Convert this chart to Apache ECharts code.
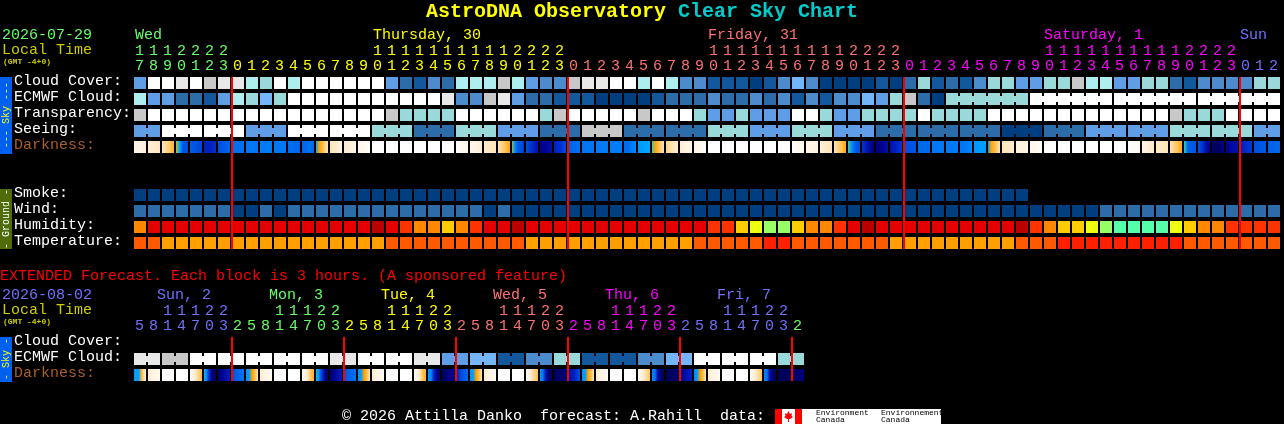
<!DOCTYPE html>
<html><head><meta charset="utf-8">
<style>html,body{margin:0;padding:0;background:#000}#c{width:1284px;height:424px}</style>
<script src="https://cdn.jsdelivr.net/npm/echarts@6/dist/echarts.min.js"></script>
</head><body><div id="c"></div>
<script>
// ---------- data ----------
const hours = [17,18,19,20,21,22,23,0,1,2,3,4,5,6,7,8,9,10,11,12,13,14,15,16,17,18,19,20,21,22,23,0,1,2,3,4,5,6,7,8,9,10,11,12,13,14,15,16,17,18,19,20,21,22,23,0,1,2,3,4,5,6,7,8,9,10,11,12,13,14,15,16,17,18,19,20,21,22,23,0,1,2];
const extHours = [5,8,11,14,17,20,23,2,5,8,11,14,17,20,23,2,5,8,11,14,17,20,23,2,5,8,11,14,17,20,23,2,5,8,11,14,17,20,23,2,5,8,11,14,17,20,23,2];
const midnights = [7,31,55,79];
const extMidnights = [7,15,23,31,39,47];
const skyRows = ['Cloud Cover:','ECMWF Cloud:','Transparency:','Seeing:','Darkness:','','','Smoke:','Wind:','Humidity:','Temperature:'];
const extRows = ['Cloud Cover:','ECMWF Cloud:','Darkness:'];

const cloudCover = [4,10,10,9,10,8,9,9,7,6,10,7,10,10,10,10,10,10,4,2,1,3,2,7,7,7,8,7,4,3,3,8,9,9,10,10,7,10,7,3,3,1,1,1,0,1,3,5,3,0,0,0,0,1,0,2,6,1,2,1,3,6,6,4,4,6,6,8,7,7,4,4,6,6,2,1,3,3,3,3,6,6];
const ecmwfCloud = [7,4,4,2,2,1,4,7,6,5,6,10,10,10,10,10,10,10,10,10,10,10,9,3,3,8,9,4,2,2,1,1,1,0,0,0,0,1,2,2,2,3,2,2,3,2,3,1,3,1,3,3,5,4,6,8,2,0,6,6,6,6,6,6,10,10,10,10,10,10,10,10,10,10,10,10,10,10,10,10,10,10];
const transparency = [5,4,4,4,4,4,4,4,4,4,4,4,4,4,4,4,4,4,5,3,3,3,3,4,4,4,4,4,4,3,5,4,4,4,4,4,5,4,4,4,3,2,2,3,2,2,2,4,4,3,2,2,3,3,3,3,4,3,3,3,3,4,4,4,4,4,4,4,4,4,4,4,4,4,5,3,3,3,4,4,4,4];
const seeing = [2,2,4,4,4,4,4,4,2,2,2,4,4,4,4,4,4,3,3,3,1,1,1,3,3,3,2,2,2,1,1,1,5,5,5,1,1,1,1,1,1,3,3,3,2,2,2,3,3,3,2,2,2,1,1,1,1,1,1,1,1,1,0,0,0,1,1,1,2,2,2,2,2,2,3,3,3,3,3,3,2,2];
const darkness = [[11.2,11,10.7],[10.7,10.4,10.2],[10,9.5,8.5],[8,6.5,5,3,3,3],[3.5,3,2.7],[2,2,2.4],[3,3.3,3.7],[4],[4.3],[4.5],[4.3],[4,3.8,3.6],[3.6,3.8,4,3.8],[6,8,8.7,9.5,10],[10,10.5,11],[10.5,11],[11.3,11.7],[12],[12],[12],[12],[12],[12],[12,11.5,11.2],[11.2,11,10.5],[10.5,10.2,10],[10,9.5,9,8.2],[7.5,5,3.2,3,2.5],[3,2.5,2,1.5],[1,1,1.2,1.5],[2,2.3,3],[3.5,3.8,4],[4.2],[4.4],[4.5],[4,3.8,4.5,5],[5.5,6],[7,8,8.8,9.5,10],[9.5,10,10.4],[10.5,11,11],[11,11.5,11.8],[12],[12],[12],[12],[12],[12],[12,11.5,11.2],[11.2,10.8],[10.8,10.3,10],[10,9.5,9,8.2],[7.2,5,3.2,3],[2.5,1.5,0.7],[1,0.8,1.2,1.5],[1.5,2,2.5],[3,3.2],[3.8],[4.3],[4.4],[4.2,4.4,5],[5.5,5.7],[5.5,8,8.7,9.3,10],[10,10.5],[10.8,11],[11.3,11.7],[12],[12],[12],[12],[12],[12],[12,11.7,11.4],[11,10.7,10.4],[10.3,10.2,10],[10,9.5,9,8.2],[7,3.5,3.3,3.2],[3.2,2.5,1.5,1],[0.5,0.3,0.5,1],[1,1.3,1.6],[2,2.5],[3,3.3],[3.5,3.8]];
const smoke = [0,0,0,0,0,0,0,0,0,0,0,0,0,0,0,0,0,0,0,0,0,0,0,0,0,0,0,0,0,0,0,0,0,0,0,0,0,0,0,0,0,0,0,0,0,0,0,0,0,0,0,0,0,0,0,0,0,0,0,0,0,0,0,0];
const wind = [1,1,1,1,1,1,1,0,0,1,0,1,1,1,1,1,1,1,1,1,1,1,1,1,1,0,1,0,0,0,0,0,0,0,0,0,0,0,0,0,0,0,0,0,0,0,0,0,0,0,0,0,0,0,0,0,0,0,0,0,0,0,0,0,0,0,0,0,0,1,1,1,1,1,1,1,1,1,1,1,1,1];
const humidity = [3,1,1,1,1,1,1,1,1,1,1,1,1,1,1,1,1,0,1,2,3,3,4,3,2,1,1,0,1,1,1,1,1,1,1,1,1,1,1,1,1,2,2,4,5,6,6,4,3,3,2,1,0,1,1,1,1,1,1,1,1,1,1,0,2,3,4,4,5,6,7,7,7,7,5,4,3,3,2,2,2,2];
const temperature = [1,1,0,0,0,0,0,0,0,0,0,0,0,0,0,0,0,0,1,1,1,1,1,1,1,1,1,1,0,0,0,0,0,0,0,0,0,0,0,0,1,1,1,1,1,2,2,1,1,1,1,1,1,1,0,0,0,0,0,0,0,0,0,1,1,1,2,2,2,2,2,2,2,2,2,1,1,1,1,1,1,1];
const extEcmwf = [9,9,8,8,10,10,10,10,10,10,10,10,10,10,9,9,10,10,10,10,9,9,4,4,5,5,1,1,3,3,6,6,1,1,1,1,3,3,5,5,10,10,10,10,10,10,6,6];
const extDarkness = [[5.7,5.7,5.7,8.5,9.7,10.5],[10.5,11,11.5],[12],[12],[11.5,11,10.2,9.5,8.7],[6.5,5,2.5,1,0.5,0.3],[0.5,1,1.5,2],[3,3.7,4],[5.5,5.5,8,9,10],[10.5,11,11.5],[12],[12],[11.5,11,10,9,8.5],[6.5,5,2.5,1,0.5],[0.5,1,1.5,2],[3,3.6,4],[5.5,5.5,8,9,10],[10.5,11,11.5],[12],[12],[11.5,11,10,9,8.5],[5.5,5,2,1,0.5],[0.3,0.5,1,1],[2,3,3.7],[5.5,5.5,8,9,10],[10.5,11,11.5],[12],[12],[11.5,11,10,9.5,9],[5.5,4,1.5,0.5,0.3],[0.3,0.4,0.5,1],[1.5,2,3],[5.5,5.5,8,9,10],[10.5,11,11.5],[12],[12],[11.5,11,10.3,9.7,9],[5,4,1.2,0.5,0.2],[0.2,0.3,0.4,0.6],[1,1.5,2],[5,5.5,8,9,10],[10.5,11,11.5],[12],[12],[11.5,11,10.3,9.7,9],[5,4,1.2,0.5,0.2],[0.2,0.2,0.3],[0.3,0.6,0.8]];

// ---------- colour scales ----------
const cloudColors = ['#003f7f','#13579c','#2c6ca8','#4c8ccc','#5f9ee6','#74b5fa','#99d9d9','#aeeeee','#c8c8c8','#e8e8e8','#ffffff'];
const seeingColors = ['#003f7f','#2c6ca8','#5f9ee6','#99d9d9','#ffffff','#c8c8c8'];
const humidityColors = ['#bb0000','#e40000','#ff3300','#ff8800','#ffcc00','#eeff11','#99ff66','#55ffaa'];
const tempColors = ['#ffa000','#ff5a00','#ff2000'];
const darkColors = ['#00004a','#000090','#0020c0','#0050e0','#0070f0','#0088ff','#00a8ff','#30d0c0','#ffa000','#ffc050','#ffe4b8','#fff4e4','#ffffff'];
const dayGreen='#66ff66',dayYellow='#ffff00',daySalmon='#ff7070',dayMagenta='#ff00ff',dayBlue='#7070ff';

const FONT='"Liberation Mono","DejaVu Sans Mono",monospace';

function hourColor(i){ return i<7?dayGreen : i<31?dayYellow : i<55?daySalmon : i<79?dayMagenta : dayBlue; }
function extHourColor(i){
  const seq=[dayBlue,dayGreen,dayYellow,daySalmon,dayMagenta,dayBlue,dayGreen];
  return seq[i<7?0:Math.floor((i-7)/8)+1];
}

function darkColor(v){ return echarts.color.lerp(Math.min(1,Math.max(0,v/12)),darkColors); }

function cellSeries(g,row,values,palette,join){
  return {
    type:'custom',xAxisIndex:g*2,yAxisIndex:g,coordinateSystem:'cartesian2d',silent:true,clip:false,animation:false,z:2,
    encode:{x:0,y:1},
    data:values.map((v,i)=>[i,row,v]),
    renderItem(params,api){
      const i=api.value(0), c=api.coord([i,row]), band=api.size([1,1]);
      const x=c[0]-band[0]/2, y=c[1]-band[1]/2+2, w=band[0]-2, h=band[1]-4;
      const fill=palette[api.value(2)];
      const kids=[{type:'rect',shape:{x,y,width:w,height:h},style:{fill}}];
      if(join&&join(i)&&i<values.length-1) kids.push({type:'rect',shape:{x:x+w,y:y+3,width:2,height:h-6},style:{fill}});
      return {type:'group',children:kids};
    }
  };
}
function darkSeries(g,row,samples){
  return {
    type:'custom',xAxisIndex:g*2,yAxisIndex:g,silent:true,clip:false,animation:false,z:2,
    encode:{x:0,y:1},
    data:samples.map((s,i)=>[i,row]),
    renderItem(params,api){
      const i=api.value(0), c=api.coord([i,row]), band=api.size([1,1]);
      const s=samples[i];
      let fill;
      if(s.length===1) fill=darkColor(s[0]);
      else fill=new echarts.graphic.LinearGradient(0,0,1,0,s.map((v,k)=>({offset:k/(s.length-1),color:darkColor(v)})));
      return {type:'rect',shape:{x:c[0]-band[0]/2,y:c[1]-band[1]/2+2,width:band[0]-2,height:band[1]-4},style:{fill}};
    }
  };
}
function lineSeries(g,list,rows){
  return {
    type:'custom',xAxisIndex:g*2,yAxisIndex:g,silent:true,clip:false,animation:false,z:5,
    encode:{x:0},
    data:list.map(i=>[i,0]),
    renderItem(params,api){
      const i=api.value(0), a=api.coord([i,0]), b=api.coord([i,rows-1]), band=api.size([1,1]);
      const x=a[0]-band[0]/2;
      return {type:'rect',shape:{x:x-1,y:a[1]-band[1]/2+2,width:2,height:b[1]-a[1]+band[1]-4},style:{fill:'#ff0000'}};
    }
  };
}
function xAxes(g,hrs,colorFn){
  const units=hrs.map(h=>String(h%10));
  const tens=hrs.map(h=>h>=10?String(Math.floor(h/10)):'');
  const base={type:'category',position:'top',gridIndex:g,boundaryGap:true,
    axisLine:{show:false},axisTick:{show:false},splitLine:{show:false}};
  const lab=(extra)=>Object.assign({show:true,interval:0,hideOverlap:false,fontFamily:FONT,fontSize:15,padding:[0,3,0,0],
    color:(v,i)=>colorFn(i)},extra);
  return [
    Object.assign({},base,{data:units,axisLabel:lab({margin:1})}),
    Object.assign({},base,{data:tens,offset:15,axisLabel:lab({margin:1})})
  ];
}
function yAxis(g,rows){
  const tok={fontFamily:FONT,fontSize:15,padding:[0,0,4,0]};
  return {type:'category',gridIndex:g,inverse:true,data:rows,
    axisLine:{show:false},axisTick:{show:false},splitLine:{show:false},
    axisLabel:{show:true,interval:0,hideOverlap:false,align:'left',margin:120,
      formatter:v=>v===''?'':(v==='Darkness:'?'{d|'+v+'}':'{w|'+v+'}'),
      rich:{w:Object.assign({color:'#ffffff',align:'left'},tok),d:Object.assign({color:'#a85f2a',align:'left'},tok)}}};
}
function txt(x,y,text,fill,size,extra){
  return Object.assign({type:'text',x,y,silent:true,style:{text,fill,font:(extra&&extra.weight?extra.weight+' ':'')+size+'px '+FONT,align:'left',verticalAlign:'middle'}},extra&&extra.el||{});
}
function vtxt(x,y,text,fill,size){
  return {type:'text',x,y,rotation:Math.PI/2,silent:true,style:{text,fill,font:size+'px '+FONT,align:'center',verticalAlign:'middle'}};
}
function rect(x,y,w,h,fill){return {type:'rect',silent:true,shape:{x,y,width:w,height:h},style:{fill}};}

const graphicItems=[
  txt(426,12,'AstroDNA Observatory','#ffff00',20,{weight:'bold'}),
  txt(678,12,'Clear Sky Chart','#00cccc',20,{weight:'bold'}),
  txt(2,35,'2026-07-29',dayGreen,15),
  txt(2,50,'Local Time','#cccc00',15),
  txt(3,62,'(GMT -4+0)','#cccc00',8,{weight:'bold'}),
  txt(135,35,'Wed',dayGreen,15),
  txt(373,35,'Thursday, 30',dayYellow,15),
  txt(708,35,'Friday, 31',daySalmon,15),
  txt(1044,35,'Saturday, 1',dayMagenta,15),
  txt(1240,35,'Sun',dayBlue,15),
  rect(0,77,12,77,'#0060ee'),
  vtxt(6,115,'--- Sky ---','#ffff00',10),
  rect(0,189,12,60,'#4f6b0a'),
  vtxt(6,219,'- Ground -','#ffffff',10),
  txt(0,276,'EXTENDED Forecast. Each block is 3 hours. (A sponsored feature)','#ff0000',15),
  txt(2,295,'2026-08-02',dayBlue,15),
  txt(2,310,'Local Time','#cccc00',15),
  txt(3,322,'(GMT -4+0)','#cccc00',8,{weight:'bold'}),
  txt(157,295,'Sun, 2',dayBlue,15),
  txt(269,295,'Mon, 3',dayGreen,15),
  txt(381,295,'Tue, 4',dayYellow,15),
  txt(493,295,'Wed, 5',daySalmon,15),
  txt(605,295,'Thu, 6',dayMagenta,15),
  txt(717,295,'Fri, 7',dayBlue,15),
  rect(0,337,12,45,'#0060ee'),
  vtxt(6,359,'- Sky -','#ffff00',10),
  txt(342,416,'© 2026 Attilla Danko  forecast: A.Rahill  data:','#ffffff',15),
  rect(775,409,166,15,'#ffffff'),
  rect(775,409,7,15,'#ff0000'),
  rect(795,409,7,15,'#ff0000'),
  {type:'polygon',silent:true,shape:{points:[[788.5,411],[790,414],[792,413],[791.5,416],[793,417],[790,419],[789,419],[789,422],[788,422],[788,419],[787,419],[784,417],[785.5,416],[785,413],[787,414]]},style:{fill:'#ff0000'}},
  txt(816,412.5,'Environment','#000000',8),
  txt(816,420,'Canada','#000000',8),
  txt(881,412.5,'Environnement','#000000',8),
  txt(881,420,'Canada','#000000',8)
];

const xA=[...xAxes(0,hours,hourColor),...xAxes(1,extHours,extHourColor)];
const option={
  backgroundColor:'#000000',animation:false,tooltip:{show:false},
  grid:[{left:134,top:75,width:1148,height:176,containLabel:false},{left:134,top:335,width:672,height:48,containLabel:false}],
  xAxis:xA,
  yAxis:[yAxis(0,skyRows),yAxis(1,extRows)],
  series:[
    cellSeries(0,0,cloudCover,cloudColors),
    cellSeries(0,1,ecmwfCloud,cloudColors,i=>i>=58&&(i-57)%6!==0),
    cellSeries(0,2,transparency,seeingColors),
    cellSeries(0,3,seeing,seeingColors,i=>(i+1)%3!==2),
    darkSeries(0,4,darkness),
    cellSeries(0,7,smoke,['#003f7f']),
    cellSeries(0,8,wind,['#003f7f','#2c6ca8']),
    cellSeries(0,9,humidity,humidityColors),
    cellSeries(0,10,temperature,tempColors),
    lineSeries(0,midnights,11),
    cellSeries(1,1,extEcmwf,cloudColors,i=>i%2===0),
    darkSeries(1,2,extDarkness),
    lineSeries(1,extMidnights,3)
  ],
  graphic:{elements:graphicItems}
};
const chart=echarts.init(document.getElementById('c'),null,{renderer:'canvas',width:1284,height:424});
chart.setOption(option);
</script></body></html>
